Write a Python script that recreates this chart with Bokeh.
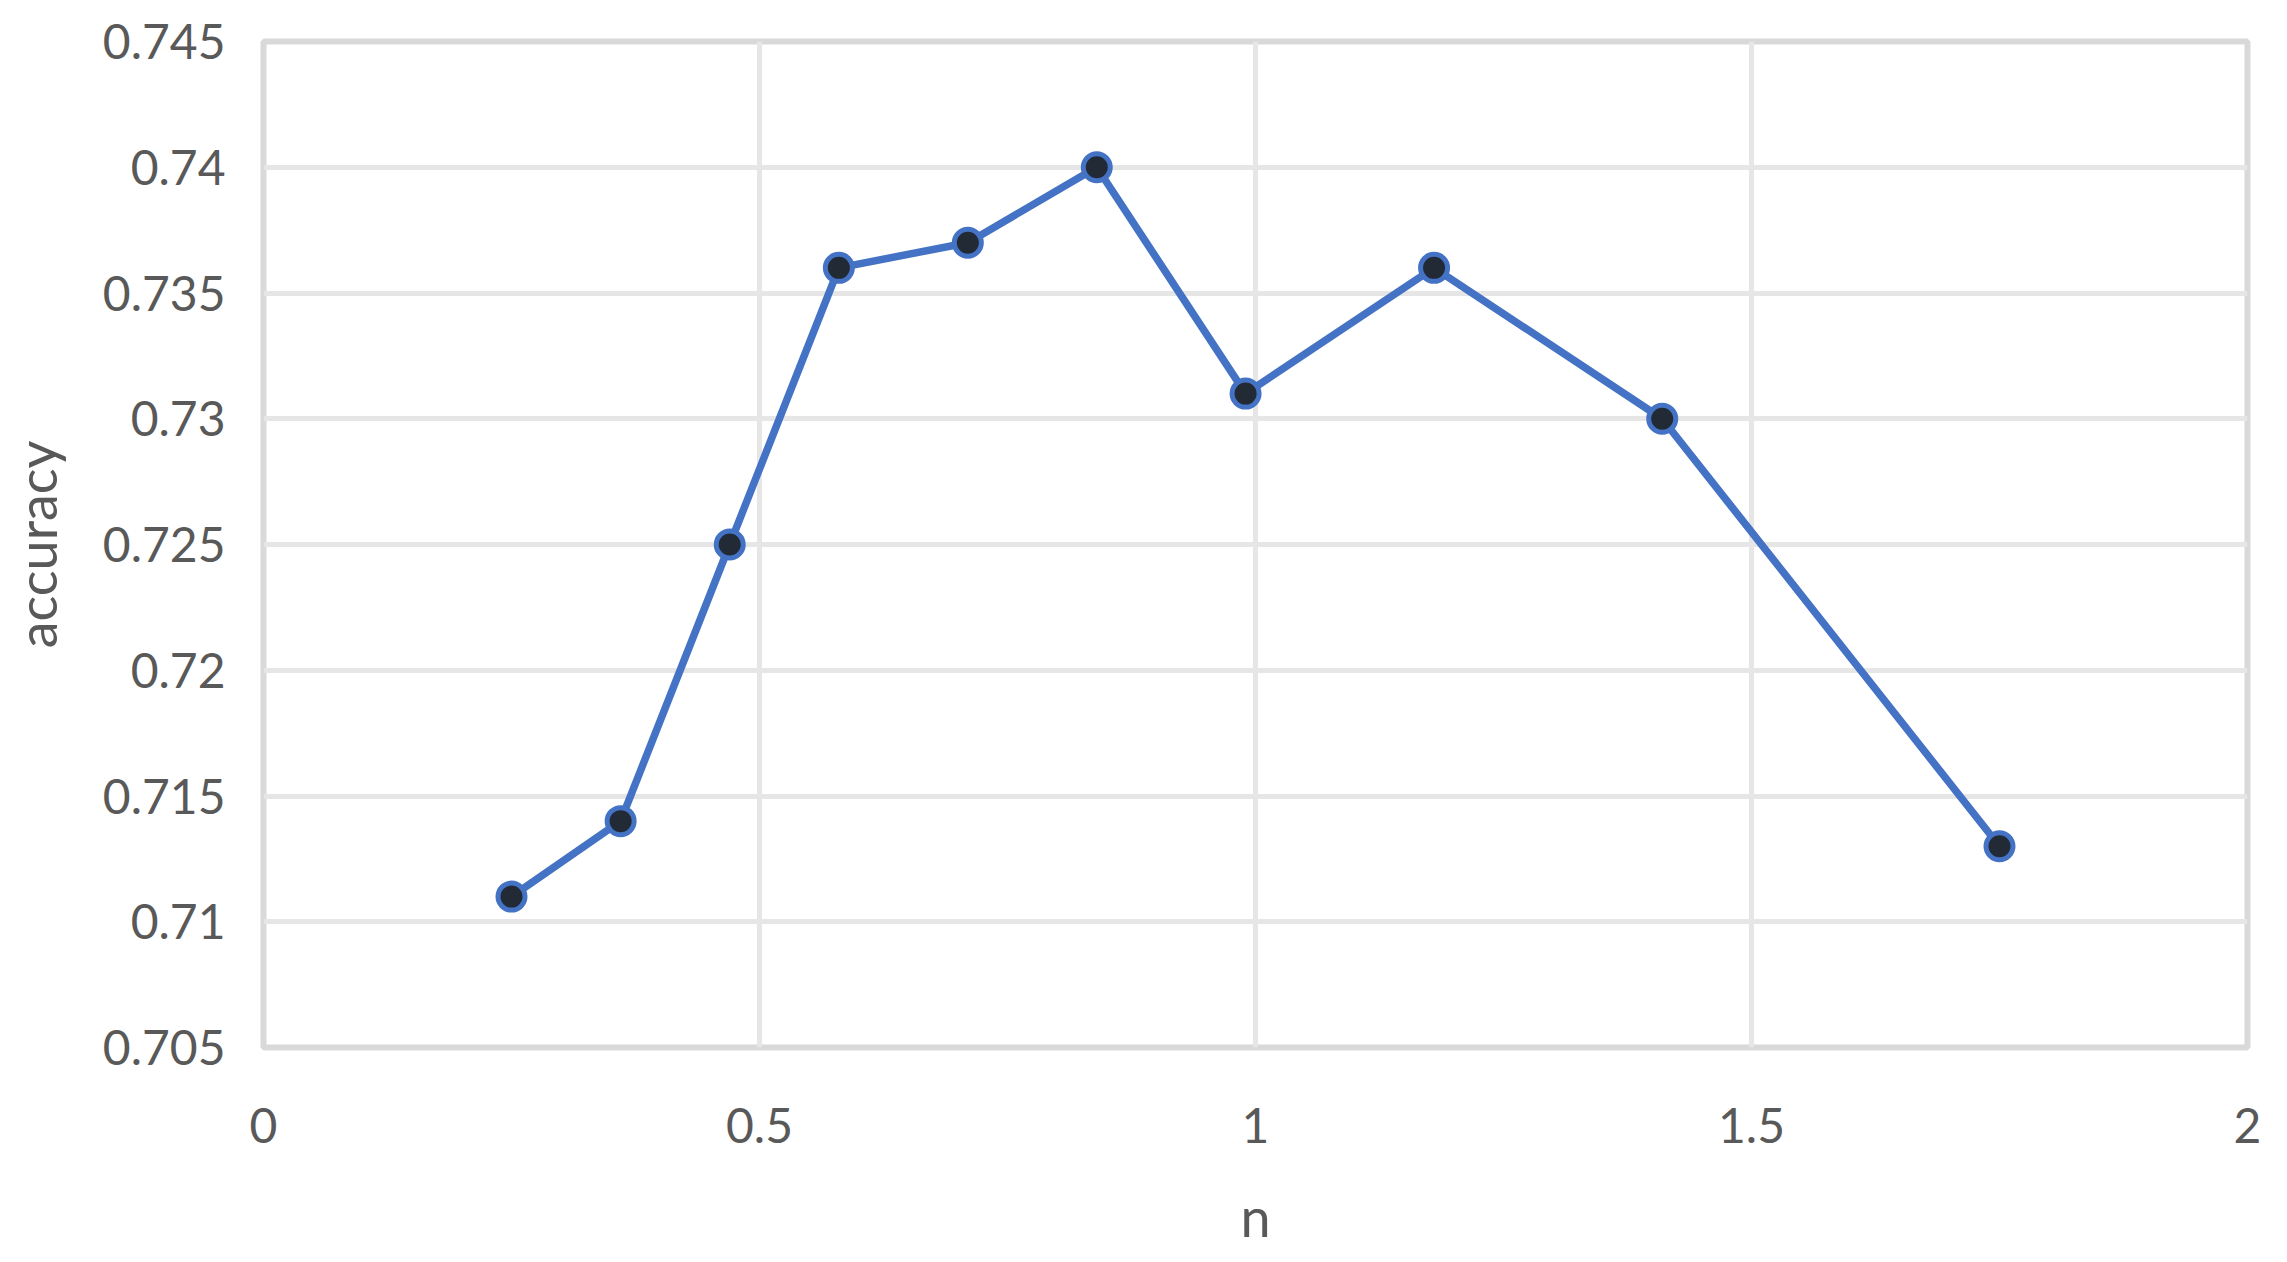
from bokeh.plotting import figure
from bokeh.models import Range1d, FixedTicker, ColumnDataSource
from bokeh.embed import file_html
from bokeh.resources import INLINE

# data
n_values = [0.25, 0.36, 0.47, 0.58, 0.71, 0.84, 0.99, 1.18, 1.41, 1.75]
accuracy = [0.711, 0.714, 0.725, 0.736, 0.737, 0.740, 0.731, 0.736, 0.730, 0.713]

x_ticks = [0, 0.5, 1, 1.5, 2]
x_tick_labels = ["0", "0.5", "1", "1.5", "2"]
y_ticks = [0.705, 0.71, 0.715, 0.72, 0.725, 0.73, 0.735, 0.74, 0.745]
y_tick_labels = ["0.705", "0.71", "0.715", "0.72", "0.725", "0.73", "0.735", "0.74", "0.745"]

FONT = "Lato"
TEXT = "#595959"

src = ColumnDataSource(dict(x=n_values, y=accuracy))

p = figure(
    frame_width=1984, frame_height=1006,
    min_border_left=262, min_border_top=41, min_border_right=30, min_border_bottom=190,
    x_range=Range1d(0, 2), y_range=Range1d(0.705, 0.745),
    output_backend="svg", toolbar_location=None,
    background_fill_color="white", border_fill_color="white",
)

p.outline_line_color = "#d9d9d9"
p.outline_line_width = 6

for g in (p.xgrid, p.ygrid):
    g.grid_line_color = "#e6e6e6"
    g.grid_line_width = 5

p.xaxis.ticker = FixedTicker(ticks=x_ticks)
p.yaxis.ticker = FixedTicker(ticks=y_ticks)
p.xaxis.major_label_overrides = {t: l for t, l in zip(x_ticks, x_tick_labels)}
p.yaxis.major_label_overrides = {t: l for t, l in zip(y_ticks, y_tick_labels)}

for ax in (p.xaxis, p.yaxis):
    ax.axis_line_color = None
    ax.major_tick_line_color = None
    ax.minor_tick_line_color = None
    ax.major_tick_out = 0
    ax.major_tick_in = 0
    ax.major_label_text_font = FONT
    ax.major_label_text_font_size = "48px"
    ax.major_label_text_color = TEXT
    ax.axis_label_text_font = FONT
    ax.axis_label_text_font_size = "54px"
    ax.axis_label_text_color = TEXT
    ax.axis_label_text_font_style = "normal"

p.xaxis.axis_label = "n"
p.yaxis.axis_label = "accuracy"
p.xaxis.major_label_standoff = 60
p.yaxis.major_label_standoff = 38
p.xaxis.axis_label_standoff = 38
p.yaxis.axis_label_standoff = 31

p.line("x", "y", source=src, line_color="#4472C4", line_width=7.5)
p.scatter("x", "y", source=src, size=27, fill_color="#222a35",
          line_color="#4472C4", line_width=5)

open("out.html", "w").write(file_html(p, INLINE))
